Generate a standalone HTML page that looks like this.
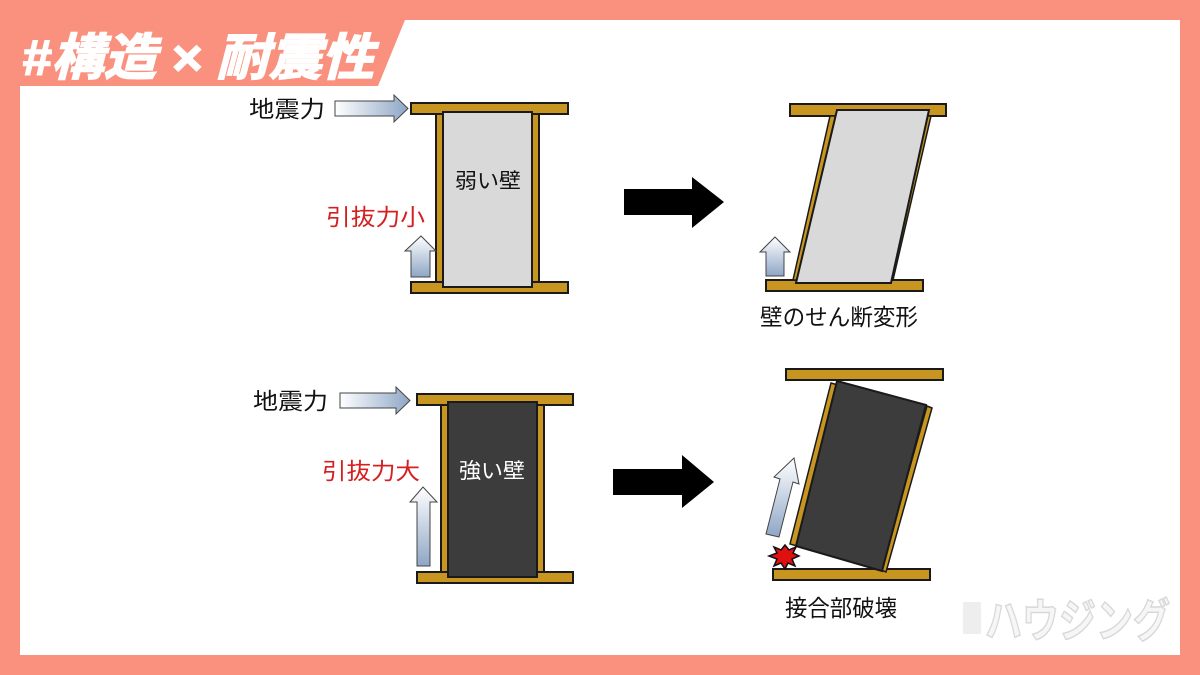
<!DOCTYPE html>
<html><head><meta charset="utf-8"><style>
html,body{margin:0;padding:0;}
body{width:1200px;height:675px;overflow:hidden;background:#fa917e;}
svg{display:block;}
text{font-family:"Liberation Sans","Noto Sans CJK JP",sans-serif;}
</style></head><body>
<svg width="1200" height="675" viewBox="0 0 1200 675" xmlns="http://www.w3.org/2000/svg">
<defs>
<linearGradient id="gh" x1="0" x2="1" y1="0" y2="0"><stop offset="0" stop-color="#ffffff"/><stop offset="1" stop-color="#8ea6c6"/></linearGradient>
<linearGradient id="gv" x1="0" x2="0" y1="0" y2="1"><stop offset="0" stop-color="#ffffff"/><stop offset="1" stop-color="#8ea6c6"/></linearGradient>
</defs>
<rect x="0" y="0" width="1200" height="675" fill="#fa917e"/>
<rect x="20" y="20" width="1160" height="635" fill="#ffffff"/>
<polygon points="20,20 405,20 378,86 20,86" fill="#fa917e"/>
<text x="22" y="75" font-size="50" font-weight="bold" font-style="italic" fill="#fff" stroke="#fff" stroke-width="1.5" textLength="352" lengthAdjust="spacingAndGlyphs">#構造 × 耐震性</text>

<g stroke="#1a1a1a" stroke-width="2">
<rect x="411" y="103" width="157" height="11" fill="#c79520"/>
<rect x="411" y="282" width="157" height="11" fill="#c79520"/>
<rect x="436" y="114" width="7" height="168" fill="#c79520"/>
<rect x="532" y="114" width="7" height="168" fill="#c79520"/>
<rect x="443" y="112" width="89" height="175" fill="#d9d9d9"/>
<polygon points="335,101 394,101 394,95 408,108.5 394,122 394,116 335,116" fill="url(#gh)" stroke="#444" stroke-width="1"/>
<polygon points="411,277 411,251 405,251 421,236 436,251 430,251 430,277" fill="url(#gv)" stroke="#444" stroke-width="1"/>
<polygon points="624,189 692,189 692,177 724,202 692,228 692,215 624,215" fill="#000" stroke="none"/>

<rect x="790" y="104" width="156" height="12" fill="#c79520"/>
<rect x="766" y="280" width="157" height="11" fill="#c79520"/>
<polygon points="830,116 836,116 799,280 793,280" fill="#c79520" stroke-width="1.5"/>
<polygon points="925,116 931,116 893,280 887,280" fill="#c79520" stroke-width="1.5"/>
<polygon points="837,110 929,110 891,283 796,283" fill="#d9d9d9"/>
<polygon points="766,276 766,252 760,252 775,237 790,252 784,252 784,276" fill="url(#gv)" stroke="#444" stroke-width="1"/>

<rect x="417" y="394" width="156" height="11" fill="#c79520"/>
<rect x="417" y="572" width="156" height="11" fill="#c79520"/>
<rect x="441" y="405" width="7" height="167" fill="#c79520"/>
<rect x="537" y="405" width="7" height="167" fill="#c79520"/>
<rect x="448" y="402" width="89" height="175" fill="#3c3c3c"/>
<polygon points="340,393 396,393 396,387 410,400.5 396,414 396,408 340,408" fill="url(#gh)" stroke="#444" stroke-width="1"/>
<polygon points="417,566 417,502 410,502 423,487 437,502 430,502 430,566" fill="url(#gv)" stroke="#444" stroke-width="1"/>
<polygon points="613,469 682,469 682,455 714,482 682,508 682,495 613,495" fill="#000" stroke="none"/>

<rect x="786" y="369" width="157" height="11" fill="#c79520"/>
<rect x="773" y="569" width="157" height="11" fill="#c79520"/>
<polygon points="831,383 838,385 797,546 790,544" fill="#c79520" stroke-width="1.5"/>
<polygon points="927,406 932,408 886,572 881,570" fill="#c79520" stroke-width="1.5"/>
<polygon points="837,381 926,405 882,571 796,546" fill="#3c3c3c"/>
<polygon points="766,534 780,479 774,477 794,458 799,484 793,482 779,537" fill="url(#gv)" stroke="#444" stroke-width="1"/>
<polygon points="785,545 789,550 796,547 793,553 799,556 792,559 795,566 788,563 785,569 781,563 774,566 777,559 769,556 777,553 774,547 781,550" fill="#e01010" stroke="#111" stroke-width="1.5"/>
</g>

<g font-size="23" fill="#111">
<text x="249" y="117" textLength="76" lengthAdjust="spacingAndGlyphs">地震力</text>
<text x="253" y="409" textLength="75" lengthAdjust="spacingAndGlyphs">地震力</text>
<text x="760" y="325" textLength="158" lengthAdjust="spacingAndGlyphs">壁のせん断変形</text>
<text x="785" y="616" textLength="112" lengthAdjust="spacingAndGlyphs">接合部破壊</text>
<text x="455" y="188" font-size="21" textLength="66" lengthAdjust="spacingAndGlyphs">弱い壁</text>
<text x="459" y="478" font-size="21" fill="#fff" textLength="66" lengthAdjust="spacingAndGlyphs">強い壁</text>
<text x="326" y="225" fill="#d42020" textLength="99" lengthAdjust="spacingAndGlyphs">引抜力小</text>
<text x="322" y="479" fill="#d42020" textLength="98" lengthAdjust="spacingAndGlyphs">引抜力大</text>
</g>

<text x="985" y="637" font-size="46" font-weight="bold" fill="#f6f6f6" stroke="#d8d8d8" stroke-width="1.5" textLength="185" lengthAdjust="spacingAndGlyphs">ハウジング</text>
<rect x="963" y="602" width="18" height="32" fill="#eeeeee"/>
</svg>
</body></html>
